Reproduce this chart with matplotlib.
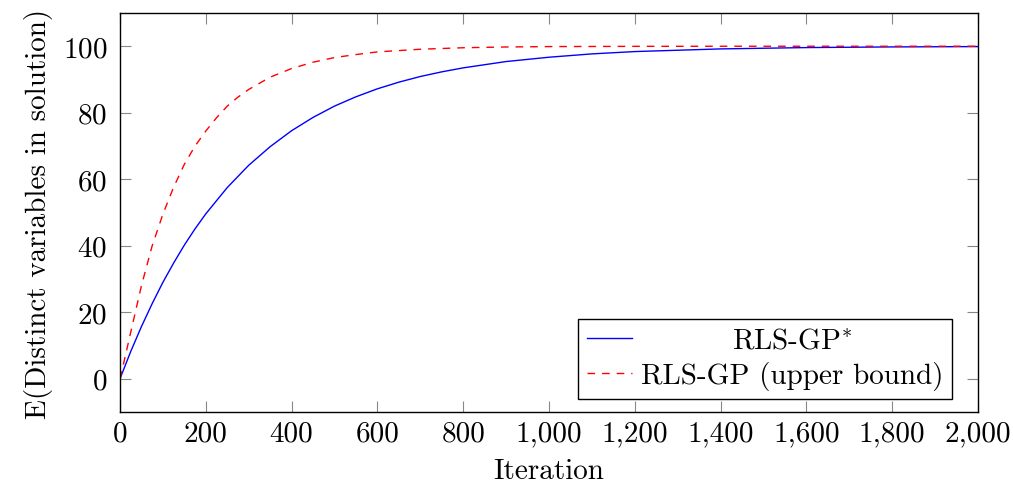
import matplotlib
matplotlib.use("Agg")
import matplotlib.pyplot as plt
from matplotlib.ticker import FuncFormatter

plt.rcParams['font.family'] = 'serif'
plt.rcParams['font.serif'] = ['cmr10']
plt.rcParams['mathtext.fontset'] = 'cm'
plt.rcParams['axes.unicode_minus'] = False
plt.rcParams['axes.formatter.use_mathtext'] = True

# data
star_iter = [0, 25, 50, 75, 100, 125, 150, 175, 200, 250, 300, 350, 400, 450,
             500, 550, 600, 650, 700, 750, 800, 900, 1000, 1100, 1200, 1400,
             1600, 1800, 2000]
rls_gp_star = [0, 8.2, 15.7, 22.6, 29.0, 34.8, 40.2, 45.1, 49.6, 57.5, 64.2,
               69.8, 74.6, 78.6, 82.0, 84.8, 87.2, 89.2, 90.9, 92.3, 93.5, 95.4,
               96.7, 97.7, 98.4, 99.2, 99.6, 99.8, 99.9]
upper_iter = [0, 10, 25, 50, 75, 100, 125, 150, 175, 200, 225, 250, 275, 300,
              350, 400, 450, 500, 550, 600, 700, 800, 900, 1000, 1200, 1400, 2000]
rls_gp_upper = [0, 5.5, 14.0, 28.0, 40.0, 49.5, 57.6, 64.5, 70.0, 74.5, 78.5,
                82.0, 84.7, 87.0, 90.7, 93.3, 95.2, 96.6, 97.5, 98.3, 99.1,
                99.55, 99.78, 99.9, 99.97, 100, 100]
x_ticks = [0, 200, 400, 600, 800, 1000, 1200, 1400, 1600, 1800, 2000]
y_ticks = [0, 20, 40, 60, 80, 100]

FS = 21
fig = plt.figure(figsize=(10.13, 4.85), dpi=100)
ax = fig.add_axes([120/1013, 1-413/485, 858/1013, 399/485])

ax.plot(star_iter, rls_gp_star, color='blue', lw=1.0, label=r'RLS-GP$^{*}$')
ax.plot(upper_iter, rls_gp_upper, color='red', lw=1.0, dashes=(5.5, 5),
        label='RLS-GP (upper bound)')

ax.set_xlim(0, 2000)
ax.set_ylim(-10, 110)
ax.set_xticks(x_ticks)
ax.set_yticks(y_ticks)
ax.xaxis.set_major_formatter(FuncFormatter(lambda v, p: '{:,}'.format(int(v))))
ax.tick_params(direction='in', length=8, width=0.8, color='#888888',
               labelsize=FS, top=True, right=True)
ax.tick_params(axis='y', pad=9)
ax.tick_params(axis='x', pad=6)
for s in ax.spines.values():
    s.set_linewidth(1.0)
    s.set_color('black')

ax.set_xlabel('Iteration', fontsize=FS, labelpad=8)
ax.set_ylabel('E(Distinct variables in solution)', fontsize=FS, labelpad=7)

leg = ax.legend(loc='lower right', bbox_to_anchor=(832/858, 13/399),
                borderaxespad=0, fontsize=FS, fancybox=False, framealpha=1,
                edgecolor='black', handlelength=1.55, handletextpad=0.3,
                labelspacing=0.25, borderpad=0.3)
leg.get_frame().set_linewidth(1.0)

fig.canvas.draw()
renderer = fig.canvas.get_renderer()
widths = [t.get_window_extent(renderer).width for t in leg.get_texts()]
maxw = max(widths)
for t, w in zip(leg.get_texts(), widths):
    t.set_position(((maxw - w) / 2, 0))

fig.savefig('out.png', dpi=100)
